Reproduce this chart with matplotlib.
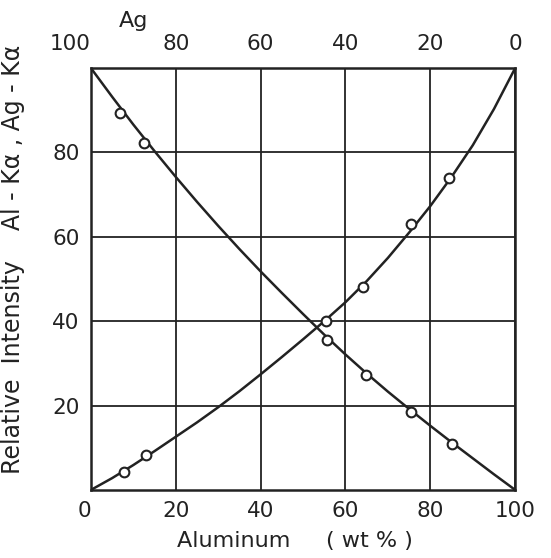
import numpy as np
import matplotlib.pyplot as plt

# measured points (Al wt%, relative intensity)
ag_pts_x = [6.8, 12.5, 55.6, 64.9, 75.4, 85.1]
ag_pts_y = [89.4, 82.2, 35.5, 27.2, 18.5, 10.9]
al_pts_x = [7.8, 13.1, 55.4, 64.1, 75.5, 84.4]
al_pts_y = [4.3, 8.2, 40.0, 48.2, 63.0, 73.9]

# curves every 5 wt%
curve_x = [0, 5, 10, 15, 20, 25, 30, 35, 40, 45, 50,
           55, 60, 65, 70, 75, 80, 85, 90, 95, 100]
ag_curve = [100, 93.2, 86.6, 80.3, 74.2, 68.3, 62.6, 57.1, 51.8, 46.7, 41.7,
            36.8, 32.1, 27.6, 23.3, 19.2, 15.2, 11.3, 7.5, 3.7, 0]
al_curve = [0, 2.8, 5.9, 9.2, 12.6, 16, 19.6, 23.4, 27.4, 31.5, 35.7,
            40, 44.5, 49.5, 55, 61, 67.3, 74.2, 81.7, 90.3, 100]

bottom_ticks = [0, 20, 40, 60, 80, 100]
left_ticks = [20, 40, 60, 80]
top_ticks = [100, 80, 60, 40, 20, 0]

ink = '#222222'
fs = 15.5
plt.rcParams['font.family'] = 'DejaVu Sans'

fig = plt.figure(figsize=(5.51, 5.58), dpi=100)
ax = fig.add_axes([0.165, 0.122, 0.770, 0.756])

ax.plot(curve_x, ag_curve, color=ink, lw=1.8, zorder=3)
ax.plot(curve_x, al_curve, color=ink, lw=1.8, zorder=3)
ax.plot(ag_pts_x, ag_pts_y, 'o', ms=7, mfc='white', mec=ink, mew=1.5, zorder=4)
ax.plot(al_pts_x, al_pts_y, 'o', ms=7, mfc='white', mec=ink, mew=1.5, zorder=4)

ax.set_xlim(0, 100)
ax.set_ylim(0, 100)
ax.set_xticks(bottom_ticks)
ax.set_yticks(left_ticks)
ax.grid(True, color=ink, lw=1.3)
ax.tick_params(length=0, labelsize=fs, colors=ink, pad=8)
for s in ax.spines.values():
    s.set_color(ink)
    s.set_linewidth(1.8)

xl = ax.get_xticklabels()
xl[0].set_ha('right')

ax.set_xlabel('Aluminum     ( wt % )', fontsize=16, color=ink)
ax.xaxis.set_label_coords(0.481, -0.098)
ax.set_ylabel('Relative  Intensity    Al - K\u03b1 , Ag - K\u03b1', fontsize=17,
              color=ink)
ax.yaxis.set_label_coords(-0.155, 0.547)

ax2 = ax.twiny()
ax2.set_xlim(100, 0)
ax2.set_xticks(top_ticks)
ax2.tick_params(length=0, labelsize=fs, colors=ink, pad=10)
tl = ax2.get_xticklabels()
tl[0].set_ha('right')
for s in ax2.spines.values():
    s.set_visible(False)

fig.text(0.242, 0.962, 'Ag', fontsize=16, color=ink, ha='center', va='center')

fig.savefig('out.png', dpi=100, facecolor='white')
